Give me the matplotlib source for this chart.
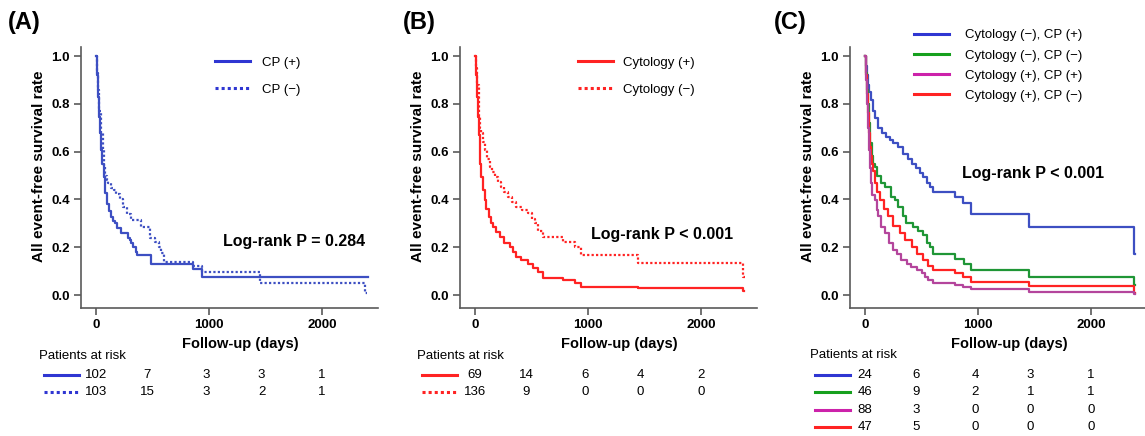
import matplotlib
matplotlib.use("Agg")
import matplotlib.pyplot as plt
from matplotlib.lines import Line2D
from matplotlib.transforms import blended_transform_factory

plt.rcParams['font.family'] = ['Liberation Sans', 'DejaVu Sans']

# ---- data ----
# (A) CP status
a_pos_t = [0, 10, 20, 27, 35, 47, 57, 68, 83, 100, 118, 136, 150, 165, 190, 224, 283, 300, 313,
           330, 350, 366, 490, 861, 941, 2410]
a_pos_s = [1.0, 0.92, 0.83, 0.746, 0.68, 0.607, 0.55, 0.495, 0.426, 0.38, 0.35, 0.328, 0.31, 0.30,
           0.28, 0.259, 0.24, 0.23, 0.217, 0.20, 0.18, 0.167, 0.132, 0.11, 0.077, 0.077]
a_neg_t = [0, 10, 20, 30, 42, 58, 70, 80, 95, 106, 130, 155, 180, 210, 239, 270, 313, 401, 475,
           519, 560, 578, 602, 861, 941, 1451, 2380, 2400]
a_neg_s = [1.0, 0.93, 0.86, 0.77, 0.68, 0.607, 0.54, 0.50, 0.48, 0.467, 0.45, 0.44, 0.425, 0.40,
           0.37, 0.34, 0.314, 0.286, 0.237, 0.223, 0.20, 0.176, 0.139, 0.12, 0.098, 0.049, 0.007, 0.007]

# (B) cytology
b_pos_t = [0, 10, 20, 27, 35, 41, 48, 56, 70, 86, 100, 121, 140, 159, 185, 218, 260, 307, 335,
           366, 410, 469, 510, 558, 602, 779, 882, 941, 1445, 2375, 2385]
b_pos_s = [1.0, 0.92, 0.83, 0.746, 0.67, 0.607, 0.55, 0.495, 0.44, 0.397, 0.36, 0.328, 0.30, 0.286,
           0.265, 0.244, 0.22, 0.202, 0.18, 0.16, 0.145, 0.132, 0.115, 0.098, 0.073, 0.063, 0.05,
           0.035, 0.028, 0.018, 0.018]
b_neg_t = [0, 10, 20, 35, 45, 56, 70, 86, 105, 130, 150, 174, 200, 233, 260, 292, 330, 366, 420,
           469, 500, 528, 560, 602, 779, 882, 941, 1445, 2375, 2390]
b_neg_s = [1.0, 0.95, 0.88, 0.746, 0.70, 0.677, 0.64, 0.607, 0.57, 0.537, 0.515, 0.495, 0.475,
           0.453, 0.43, 0.411, 0.39, 0.37, 0.355, 0.342, 0.32, 0.30, 0.27, 0.244, 0.223, 0.202,
           0.167, 0.135, 0.077, 0.077]

# (C) cytology x CP
c_t1 = [0, 8, 16, 25, 35, 50, 70, 90, 118, 150, 185, 218, 251, 292, 340, 380, 413, 450, 484, 516,
        545, 573, 602, 794, 870, 941, 1454, 2383, 2393]
c_s1 = [1.0, 0.96, 0.92, 0.88, 0.85, 0.816, 0.77, 0.74, 0.70, 0.68, 0.662, 0.65, 0.635, 0.62, 0.59,
        0.57, 0.55, 0.53, 0.51, 0.495, 0.47, 0.453, 0.432, 0.41, 0.384, 0.338, 0.286, 0.174, 0.174]
c_t2 = [0, 8, 16, 24, 32, 44, 60, 75, 88, 110, 144, 177, 233, 265, 292, 339, 366, 428, 470, 516,
        545, 573, 602, 794, 880, 941, 1454, 2383, 2393]
c_s2 = [1.0, 0.93, 0.86, 0.80, 0.72, 0.635, 0.58, 0.55, 0.537, 0.50, 0.467, 0.453, 0.41, 0.397,
        0.37, 0.33, 0.30, 0.286, 0.27, 0.25, 0.22, 0.202, 0.174, 0.153, 0.132, 0.105, 0.077, 0.042,
        0.042]
c_t3 = [0, 8, 16, 24, 32, 40, 53, 65, 88, 105, 118, 140, 177, 215, 248, 280, 320, 369, 410, 457,
        500, 530, 560, 602, 794, 870, 941, 1454, 2383, 2393]
c_s3 = [1.0, 0.90, 0.80, 0.70, 0.607, 0.53, 0.467, 0.42, 0.397, 0.356, 0.33, 0.286, 0.258, 0.22,
        0.188, 0.17, 0.146, 0.132, 0.118, 0.105, 0.091, 0.075, 0.063, 0.052, 0.042, 0.032, 0.024,
        0.014, 0.005, 0.005]
c_t4 = [0, 8, 16, 24, 32, 40, 50, 60, 74, 90, 110, 133, 170, 206, 250, 310, 350, 413, 460, 516,
        560, 602, 794, 870, 941, 1454, 2383, 2393]
c_s4 = [1.0, 0.92, 0.84, 0.76, 0.68, 0.62, 0.58, 0.55, 0.52, 0.47, 0.43, 0.397, 0.36, 0.33, 0.29,
        0.258, 0.23, 0.20, 0.174, 0.146, 0.12, 0.105, 0.091, 0.077, 0.053, 0.039, 0.007, 0.007]

# patients at risk
risk_days = [0, 455, 975, 1465, 2000]
risk_a = [[102, 7, 3, 3, 1], [103, 15, 3, 2, 1]]
risk_b = [[69, 14, 6, 4, 2], [136, 9, 0, 0, 0]]
risk_c = [[24, 6, 4, 3, 1], [46, 9, 2, 1, 1], [88, 3, 0, 0, 0], [47, 5, 0, 0, 0]]

labels_a = ['CP (+)', 'CP (\u2212)']
labels_b = ['Cytology (+)', 'Cytology (\u2212)']
labels_c = ['Cytology (\u2212), CP (+)', 'Cytology (\u2212), CP (\u2212)',
            'Cytology (+), CP (+)', 'Cytology (+), CP (\u2212)']

DOT = (0, (1, 1))
BLUE, BLUE_L = '#3d4fc2', '#2f36d2'
RED = '#ff2323'
GREEN, GREEN_L = '#1f9636', '#16a01e'
MAG, MAG_L = '#b4459c', '#cc22aa'
SPINE = '#5a5a5a'

W, H = 1145, 436
fig = plt.figure(figsize=(W / 100, H / 100), dpi=100)


def new_ax(left_px):
    return fig.add_axes([left_px / W, (H - 308) / H, 297 / W, 261 / H])


def style(ax):
    ax.set_xlim(-133, 2496)
    ax.set_ylim(-0.054, 1.038)
    for sp in ['top', 'right']:
        ax.spines[sp].set_visible(False)
    for sp in ['left', 'bottom']:
        ax.spines[sp].set_color(SPINE)
        ax.spines[sp].set_linewidth(1.2)
    ax.set_xticks([0, 1000, 2000])
    ax.set_yticks([0, 0.2, 0.4, 0.6, 0.8, 1.0])
    ax.set_yticklabels(['0.0', '0.2', '0.4', '0.6', '0.8', '1.0'])
    ax.tick_params(direction='out', length=5, width=1.2, color=SPINE, labelsize=9.5, pad=3)
    for lab in ax.get_xticklabels() + ax.get_yticklabels():
        lab.set_fontweight('bold')
    ax.set_ylabel('All event-free survival rate', fontsize=11, fontweight='bold')
    ax.yaxis.set_label_coords(-0.118, 0.544)
    ax.set_xlabel('Follow-up (days)', fontsize=10.5, fontweight='bold')
    ax.xaxis.set_label_coords(0.535, -0.112)


def risk_table(ax, rows, colors, styles, row_y, head_x, head_y, line_x):
    ax.text(head_x, head_y, 'Patients at risk', transform=ax.transAxes, fontsize=9.5,
            ha='left', va='center')
    trans = blended_transform_factory(ax.transData, ax.transAxes)
    for counts, col, ls, y in zip(rows, colors, styles, row_y):
        ax.add_line(Line2D(line_x, [y, y], transform=ax.transAxes, color=col, lw=2.2,
                           linestyle=ls, clip_on=False))
        for xd, n in zip(risk_days, counts):
            ax.text(xd, y, str(n), transform=trans, fontsize=9.5, ha='center', va='center',
                    clip_on=False)


def legend(ax, colors, styles, labels, x, y, spacing, textpad):
    handles = [Line2D([], [], color=c, lw=2.2, linestyle=ls) for c, ls in zip(colors, styles)]
    ax.legend(handles, labels, loc='upper left', bbox_to_anchor=(x, y), frameon=False,
              fontsize=9.5, handlelength=2.65, handletextpad=textpad, labelspacing=spacing,
              borderpad=0, borderaxespad=0)


# ---- (A) ----
ax = new_ax(81)
ax.plot(a_pos_t, a_pos_s, drawstyle='steps-post', color=BLUE, lw=1.6)
ax.plot(a_neg_t, a_neg_s, drawstyle='steps-post', color=BLUE, lw=1.6, linestyle=DOT)
style(ax)
legend(ax, [BLUE_L, BLUE_L], ['-', DOT], labels_a, 0.451, 0.963, 1.13, 0.9)
ax.text(0.478, 0.253, 'Log-rank P = 0.284', transform=ax.transAxes, fontsize=11.5,
        fontweight='bold', ha='left', va='center')
risk_table(ax, risk_a, [BLUE_L, BLUE_L], ['-', DOT], [-0.257, -0.322], -0.141, -0.184,
           [-0.125, -0.007])
fig.text(8 / W, 1 - 22 / H, '(A)', fontsize=17, fontweight='bold', ha='left', va='center')

# ---- (B) ----
ax = new_ax(460)
ax.plot(b_pos_t, b_pos_s, drawstyle='steps-post', color=RED, lw=1.6)
ax.plot(b_neg_t, b_neg_s, drawstyle='steps-post', color=RED, lw=1.6, linestyle=DOT)
style(ax)
legend(ax, [RED, RED], ['-', DOT], labels_b, 0.397, 0.963, 1.13, 0.76)
ax.text(0.441, 0.28, 'Log-rank P < 0.001', transform=ax.transAxes, fontsize=11.5,
        fontweight='bold', ha='left', va='center')
risk_table(ax, risk_b, [RED, RED], ['-', DOT], [-0.257, -0.322], -0.145, -0.184,
           [-0.128, -0.01])
fig.text(403 / W, 1 - 22 / H, '(B)', fontsize=17, fontweight='bold', ha='left', va='center')

# ---- (C) ----
ax = new_ax(850)
ax.plot(c_t1, c_s1, drawstyle='steps-post', color=BLUE, lw=1.6)
ax.plot(c_t2, c_s2, drawstyle='steps-post', color=GREEN, lw=1.6)
ax.plot(c_t4, c_s4, drawstyle='steps-post', color=RED, lw=1.6)
ax.plot(c_t3, c_s3, drawstyle='steps-post', color=MAG, lw=1.6)
style(ax)
c_cols = [BLUE_L, GREEN_L, MAG_L, RED]
legend(ax, c_cols, ['-'] * 4, labels_c, 0.215, 1.068, 0.6, 1.2)
ax.text(0.377, 0.517, 'Log-rank P < 0.001', transform=ax.transAxes, fontsize=11.5,
        fontweight='bold', ha='left', va='center')
risk_table(ax, risk_c, c_cols, ['-'] * 4, [-0.257, -0.322, -0.391, -0.456], -0.135, -0.18,
           [-0.118, 0.0])
fig.text(774 / W, 1 - 22 / H, '(C)', fontsize=17, fontweight='bold', ha='left', va='center')

fig.savefig('out.png', dpi=100)
